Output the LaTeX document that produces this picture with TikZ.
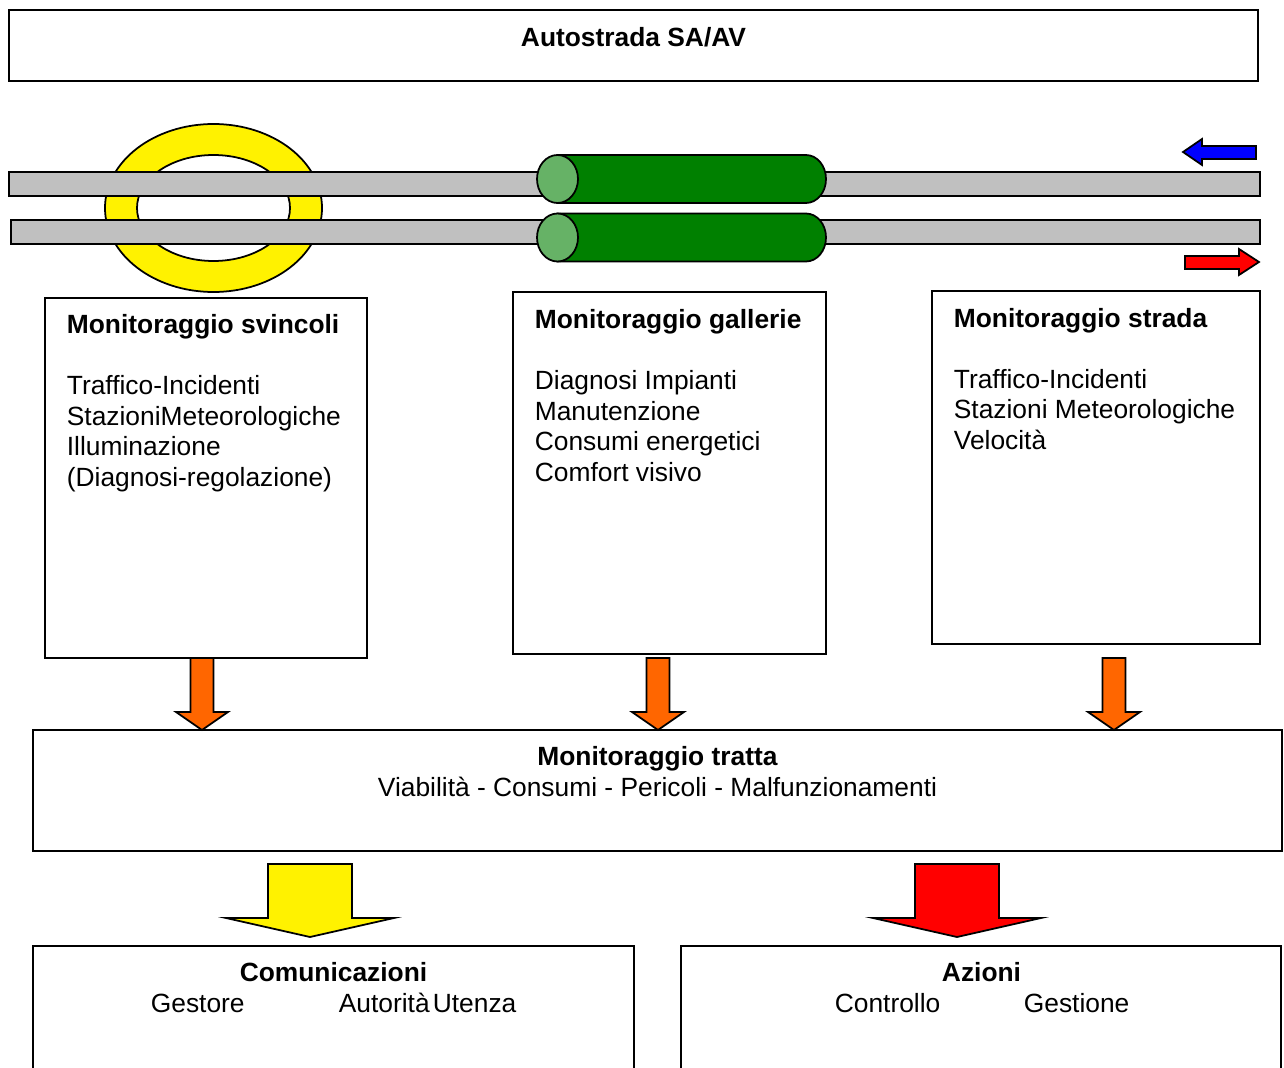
\documentclass[tikz,border=0pt]{standalone}
\usepackage{fontspec}
\setmainfont{Liberation Sans}
\definecolor{roadgray}{RGB}{192,192,192}
\definecolor{tunnelgreen}{RGB}{0,128,0}
\definecolor{capgreen}{RGB}{102,178,102}
\definecolor{arrorange}{RGB}{255,102,0}
\begin{document}
\begin{tikzpicture}[x=0.2mm, y=-0.2mm, line width=1pt,
    font=\fontsize{15}{17.4}\selectfont,
    txt/.style={inner sep=0pt, anchor=base west, align=left},
    ctxt/.style={inner sep=0pt, anchor=base, align=center}]
  \useasboundingbox (0,0) rectangle (1284,1068);

  \coordinate (ring) at (213.5,208);
  \coordinate (tunnel) at (557.5,179);

  % title box
  \draw (9,10) rectangle (1258,81);
  \node[ctxt] (autostrada) at (633.5,46.5) {\textbf{Autostrada SA/AV}};

  % junction ring
  \fill[yellow, even odd rule] (ring) ellipse [x radius=108.5, y radius=84]
    (ring) ellipse [x radius=76.5, y radius=53];
  \draw (ring) ellipse [x radius=108.5, y radius=84];
  \draw (ring) ellipse [x radius=76.5, y radius=53];

  % carriageways
  \draw[fill=roadgray] (9,172) rectangle (1260,196);
  \draw[fill=roadgray] (11,220) rectangle (1260,244);

  % tunnels
  \foreach \y in {179,237.5} {
    \draw[fill=tunnelgreen] (557.5,\y-24) -- (806,\y-24)
      arc[start angle=-90, end angle=90, x radius=20, y radius=24]
      -- (557.5,\y+24) -- cycle;
    \draw[fill=capgreen] (557.5,\y) ellipse [x radius=20.5, y radius=24];
  }

  % driving directions
  \draw[fill=blue] (1183,152) -- (1202,139) -- (1202,146) -- (1256,146)
    -- (1256,159) -- (1202,159) -- (1202,165) -- cycle;
  \draw[fill=red] (1185,256) -- (1239,256) -- (1239,249) -- (1259,262)
    -- (1239,275) -- (1239,269) -- (1185,269) -- cycle;

  % monitoring boxes (text nodes sit on their last baseline)
  \draw (45,298) rectangle (367,658);
  \draw (513,292) rectangle (826,654);
  \draw (932,291) rectangle (1260,644);

  \node[txt] (svincoli) at (66,486.5) {\textbf{Monitoraggio svincoli}\\[17.4pt]
    Traffico-Incidenti\\ StazioniMeteorologiche\\ Illuminazione\\
    (Diagnosi-regolazione)};
  \node[txt] (gallerie) at (534,481.5) {\textbf{Monitoraggio gallerie}\\[17.4pt]
    Diagnosi Impianti\\ Manutenzione\\ Consumi energetici\\ Comfort visivo};
  \node[txt] (strada) at (953,449.5) {\textbf{Monitoraggio strada}\\[17.4pt]
    Traffico-Incidenti\\ Stazioni Meteorologiche\\ Velocità};

  \foreach \x in {202,658,1114}
    \draw[fill=arrorange] (\x-11.5,658) -- (\x+11.5,658) -- (\x+11.5,712)
      -- (\x+26,712) -- (\x,730) -- (\x-26,712) -- (\x-11.5,712) -- cycle;

  % section box
  \draw (33,730) rectangle (1282,851);
  \node[ctxt] (tratta) at (657.5,796.5) {\textbf{Monitoraggio tratta}\\
    Viabilità - Consumi - Pericoli - Malfunzionamenti};

  \draw[fill=yellow] (268,864) -- (352,864) -- (352,918) -- (394,918)
    -- (310,937) -- (226,918) -- (268,918) -- cycle;
  \draw[fill=red] (915,864) -- (999,864) -- (999,918) -- (1041,918)
    -- (957,937) -- (873,918) -- (915,918) -- cycle;

  % output boxes
  \draw (33,1070) -- (33,946) -- (634,946) -- (634,1070);
  \draw (681,1070) -- (681,946) -- (1281,946) -- (1281,1070);

  \node[ctxt] (comunicazioni) at (333.5,981.5) {\textbf{Comunicazioni}};
  \node[txt] (gestore) at (150,1012.5) {Gestore};
  \node[txt] (autorita) at (338,1012.5) {Autorità};
  \node[txt] (utenza) at (432,1012.5) {Utenza};

  \node[ctxt] (azioni) at (981.5,981.5) {\textbf{Azioni}};
  \node[txt] (controllo) at (834,1012.5) {Controllo};
  \node[txt] (gestione) at (1023,1012.5) {Gestione};
\end{tikzpicture}
\end{document}
